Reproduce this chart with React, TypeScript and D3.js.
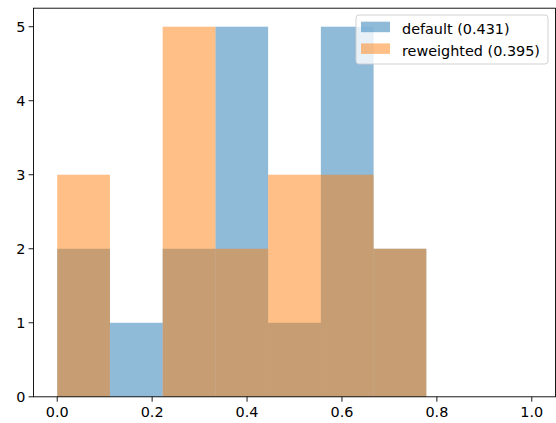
import React from "react";
import * as d3 from "d3";

const binEdges = [0, 1 / 9, 2 / 9, 3 / 9, 4 / 9, 5 / 9, 6 / 9, 7 / 9, 8 / 9, 1];
const defaultCounts = [2, 1, 2, 5, 1, 5, 2, 0, 0];
const reweightedCounts = [3, 0, 5, 2, 3, 3, 2, 0, 0];
const seriesNames = ["default (0.431)", "reweighted (0.395)"];
const seriesColors = ["#1f77b4", "#ff7f0e"];
const xTicks = [0, 0.2, 0.4, 0.6, 0.8, 1.0];
const yTicks = [0, 1, 2, 3, 4, 5];

export default function App() {
  const W = 556, H = 423;
  const left = 33.5, right = 555.5, top = 8.2, bottom = 396.8;
  const x = d3.scaleLinear().domain([-0.05, 1.05]).range([left, right]);
  const y = d3.scaleLinear().domain([0, 5.25]).range([bottom, top]);
  const series = [defaultCounts, reweightedCounts];
  const font = "DejaVu Sans, sans-serif";
  const fs = 14.4;
  return (
    <svg width={W} height={H} style={{ position: "absolute", left: 0, top: 0 }}>
      <rect width={W} height={H} fill="white" />
      {series.map((counts, si) =>
        counts.map((c, i) =>
          c > 0 ? (
            <rect
              key={`${si}-${i}`}
              x={x(binEdges[i])}
              y={y(c)}
              width={x(binEdges[i + 1]) - x(binEdges[i])}
              height={y(0) - y(c)}
              fill={seriesColors[si]}
              fillOpacity={0.5}
            />
          ) : null
        )
      )}
      <rect x={left} y={top} width={right - left} height={bottom - top} fill="none" stroke="#000" strokeWidth={0.9} />
      {xTicks.map((t) => (
        <g key={`x${t}`}>
          <line x1={x(t)} x2={x(t)} y1={bottom} y2={bottom + 4.9} stroke="#000" strokeWidth={0.9} />
          <text x={x(t)} y={bottom + 20.5} textAnchor="middle" fontSize={fs} fontFamily={font} fill="#000">
            {t.toFixed(1)}
          </text>
        </g>
      ))}
      {yTicks.map((t) => (
        <g key={`y${t}`}>
          <line x1={left} x2={left - 4.9} y1={y(t)} y2={y(t)} stroke="#000" strokeWidth={0.9} />
          <text x={left - 8} y={y(t)} dy="0.36em" textAnchor="end" fontSize={fs} fontFamily={font} fill="#000">
            {t}
          </text>
        </g>
      ))}
      <g>
        <rect x={356} y={15} width={192} height={49} rx={3} fill="white" fillOpacity={0.8} stroke="#cccccc" strokeWidth={0.9} />
        {seriesNames.map((n, i) => (
          <g key={n}>
            <rect x={361} y={21.7 + i * 21.7} width={29} height={10.5} fill={seriesColors[i]} fillOpacity={0.5} />
            <text x={402} y={34 + i * 21.7} fontSize={fs} fontFamily={font} fill="#000">
              {n}
            </text>
          </g>
        ))}
      </g>
    </svg>
  );
}
